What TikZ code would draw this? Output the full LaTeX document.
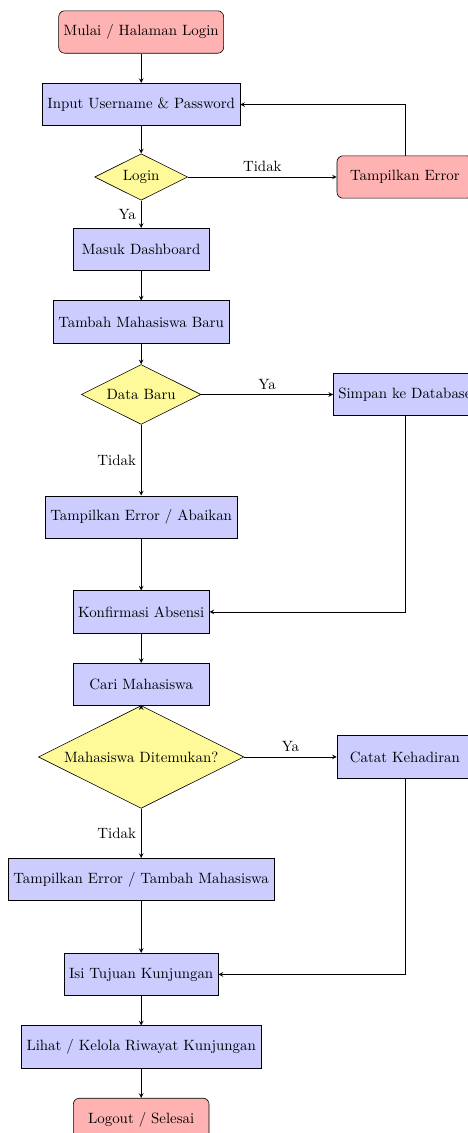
\documentclass[tikz,border=0pt]{standalone}
\usetikzlibrary{shapes.geometric}

\tikzset{
  mulaiselesai/.style={rectangle, rounded corners, draw, fill=red!30, minimum width=3.2cm, minimum height=1cm},
  proses/.style={rectangle, draw, fill=blue!20, minimum width=3.2cm, minimum height=1cm},
  keputusan/.style={diamond, aspect=2, draw, fill=yellow!40},
}

\begin{document}
\begin{tikzpicture}[x=1cm,y=-1.71cm,>=stealth]
      \useasboundingbox (0cm,0.755cm) rectangle (11.02cm,-25.97cm);
      % kolom utama
      \node[mulaiselesai] (mulai) at (3.33,0) {Mulai / Halaman Login};
      \node[proses] (input) at (3.33,1) {Input Username \& Password};
      \node[keputusan] (login) at (3.33,2) {Login};
      \node[proses] (dashboard) at (3.33,3) {Masuk Dashboard};
      \node[proses] (tambah) at (3.33,4) {Tambah Mahasiswa Baru};
      \node[keputusan] (databaru) at (3.33,5) {Data Baru};
      \node[proses] (abaikan) at (3.33,6.69) {Tampilkan Error / Abaikan};
      \node[proses] (konfirmasi) at (3.33,8) {Konfirmasi Absensi};
      \node[proses] (cari) at (3.33,9) {Cari Mahasiswa};
      \node[keputusan] (ditemukan) at (3.33,10) {Mahasiswa Ditemukan?};
      \node[proses] (errmhs) at (3.33,11.69) {Tampilkan Error / Tambah Mahasiswa};
      \node[proses] (tujuan) at (3.33,13) {Isi Tujuan Kunjungan};
      \node[proses] (riwayat) at (3.33,14) {Lihat / Kelola Riwayat Kunjungan};
      \node[mulaiselesai] (selesai) at (3.33,15) {Logout / Selesai};
      % kolom kanan
      \node[mulaiselesai] (errlogin) at (9.55,2) {Tampilkan Error};
      \node[proses] (simpan) at (9.55,5) {Simpan ke Database};
      \node[proses] (catat) at (9.55,10) {Catat Kehadiran};

      \draw[->] (mulai) -- (input);
      \draw[->] (input) -- (login);
      \draw[->] (login) -- node[above]{Tidak} (errlogin);
      \draw[->] (errlogin) |- (input);
      \draw[->] (login) -- node[left]{Ya} (dashboard);
      \draw[->] (dashboard) -- (tambah);
      \draw[->] (tambah) -- (databaru);
      \draw[->] (databaru) -- node[above]{Ya} (simpan);
      \draw[->] (databaru) -- node[left]{Tidak} (abaikan);
      \draw[->] (abaikan) -- (konfirmasi);
      \draw[->] (simpan) |- (konfirmasi);
      \draw[->] (konfirmasi) -- (cari);
      \draw[->] (cari) -- (ditemukan);
      \draw[->] (ditemukan) -- node[above]{Ya} (catat);
      \draw[->] (ditemukan) -- node[left]{Tidak} (errmhs);
      \draw[->] (errmhs) -- (tujuan);
      \draw[->] (catat) |- (tujuan);
      \draw[->] (tujuan) -- (riwayat);
      \draw[->] (riwayat) -- (selesai);
    \end{tikzpicture}
\end{document}
